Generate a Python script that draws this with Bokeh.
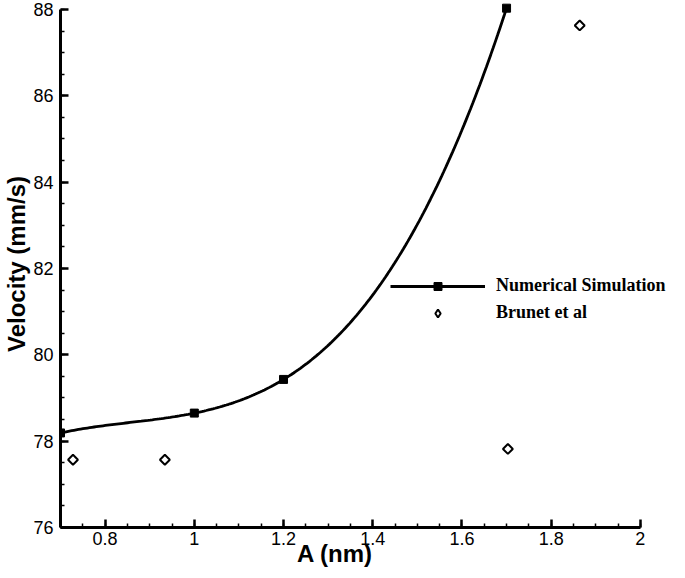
import numpy as np
from bokeh.plotting import figure
from bokeh.models import Legend, LegendItem, FixedTicker, Range1d, LinearAxis
from bokeh.embed import file_html
from bokeh.resources import INLINE

# ---- data ----
sim_a = [0.7, 1.0, 1.2, 1.7]
sim_v = [78.19, 78.65, 79.43, 88.03]
brunet_a = [0.728, 0.934, 1.703, 1.864]
brunet_v = [77.57, 77.57, 77.82, 87.63]
x_ticks = [0.8, 1.0, 1.2, 1.4, 1.6, 1.8, 2.0]
y_ticks = [76, 78, 80, 82, 84, 86, 88]
x_label_map = {0.8: "0.8", 1.0: "1", 1.2: "1.2", 1.4: "1.4", 1.6: "1.6", 1.8: "1.8", 2.0: "2"}

# smooth curve through the simulation points (cubic interpolant through the 4 points)
coef = np.polyfit(sim_a, sim_v, len(sim_a) - 1)
curve_x = np.linspace(min(sim_a), max(sim_a), 200)
curve_y = np.polyval(coef, curve_x)

p = figure(width=669, height=570, output_backend="svg", toolbar_location=None,
           x_range=Range1d(0.7, 2.0653), y_range=Range1d(76, 88.208),
           min_border_left=56, min_border_right=0, min_border_top=0, min_border_bottom=43)
p.outline_line_color = None
p.grid.visible = False
p.background_fill_color = "white"

line_r = p.line(curve_x, curve_y, line_color="black", line_width=2.8)
sq_r = p.scatter(sim_a, sim_v, marker="square", size=8, fill_color="black", line_color="black")
p.scatter(brunet_a, brunet_v, marker="square", angle=np.pi / 4, size=7,
          fill_color="white", line_color="black", line_width=2)
# legend swatch for the Brunet points (nothing drawn in the plot area)
di_leg = p.scatter([np.nan], [np.nan], marker="diamond", size=11,
                   fill_color="white", line_color="black", line_width=2)

for ax, ticks, minors, bounds in [
    (p.xaxis[0], x_ticks, [round(0.7 + 0.05 * i, 2) for i in range(27)], (0.7, 2.0)),
    (p.yaxis[0], y_ticks, [76 + 0.5 * i for i in range(25)], (76, 88)),
]:
    ax.ticker = FixedTicker(ticks=ticks, minor_ticks=minors)
    ax.bounds = bounds
    ax.axis_line_width = 3
    ax.axis_line_color = "black"
    ax.major_tick_in = 8
    ax.major_tick_out = 0
    ax.minor_tick_in = 4
    ax.minor_tick_out = 0
    ax.major_tick_line_width = 2.5
    ax.minor_tick_line_width = 1.5
    ax.major_label_text_font = "Liberation Sans"
    ax.major_label_text_font_size = "18px"
    ax.major_label_text_color = "black"
    ax.axis_label_text_font = "Liberation Sans"
    ax.axis_label_text_font_size = "24px"
    ax.axis_label_text_font_style = "bold"
    ax.axis_label_text_color = "black"

p.xaxis[0].major_label_overrides = x_label_map
p.xaxis[0].major_label_standoff = 4
p.yaxis.axis_label = "Velocity (mm/s)"
p.yaxis.major_label_standoff = 7
p.yaxis.axis_label_standoff = 0

# second (invisible) bottom axis that only carries the x title; the trailing
# no-break spaces move its visible centre left, where the reference has it
title_axis = LinearAxis(ticker=FixedTicker(ticks=[]),
                        axis_line_color=None, major_tick_line_color=None,
                        minor_tick_line_color=None,
                        axis_label="A (nm)" + "\u00a0" * 9,
                        axis_label_standoff=-8, axis_label_text_font="Liberation Sans",
                        axis_label_text_font_size="24px", axis_label_text_font_style="bold",
                        axis_label_text_color="black")
p.add_layout(title_axis, "below")

legend = Legend(items=[
    LegendItem(label="Numerical Simulation", renderers=[line_r, sq_r]),
    LegendItem(label="Brunet et al", renderers=[di_leg]),
], location=(330, 204))
legend.glyph_width = 95
legend.glyph_height = 20
legend.label_height = 20
legend.label_standoff = 11
legend.spacing = 6
legend.padding = 0
legend.margin = 0
legend.border_line_color = None
legend.background_fill_alpha = 0
legend.label_text_font = "Liberation Serif"
legend.label_text_font_style = "bold"
legend.label_text_font_size = "18px"
legend.label_text_color = "black"
p.add_layout(legend, "center")

open("out.html", "w").write(file_html(p, INLINE))
